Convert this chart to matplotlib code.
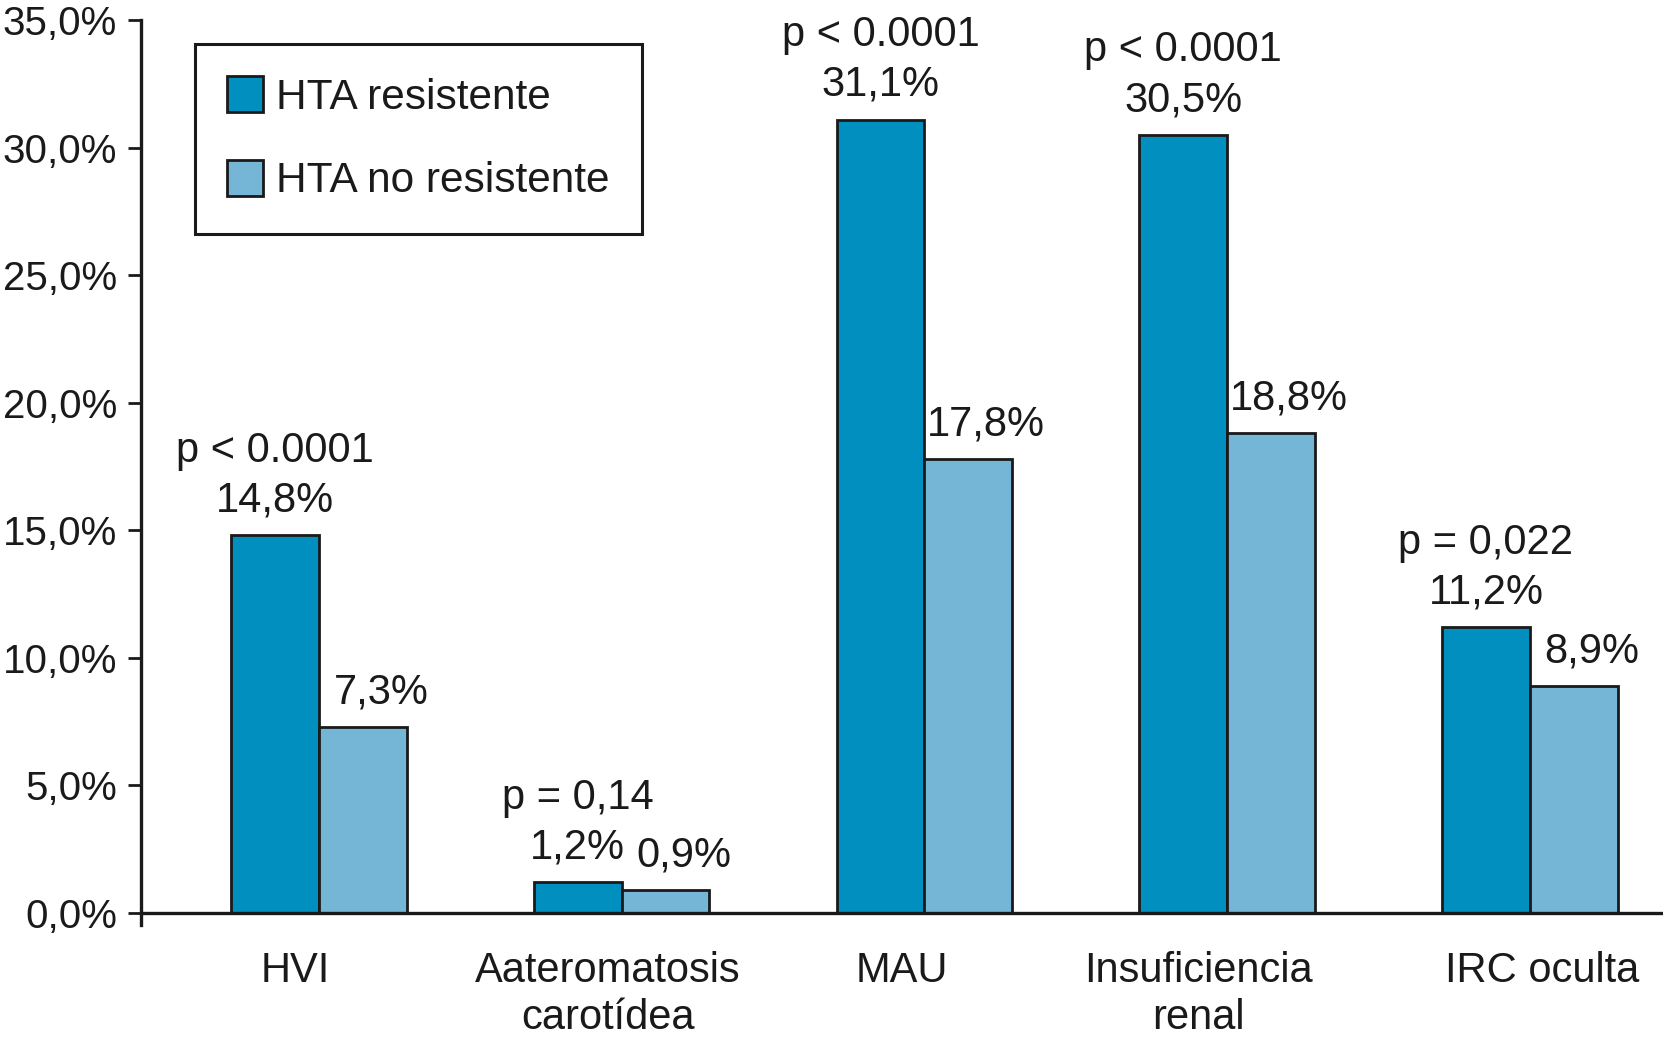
import matplotlib
matplotlib.use('Agg')
import matplotlib.pyplot as plt
import matplotlib.transforms as mtransforms
import numpy as np

categories = ['HVI', 'Aateromatosis\ncarotídea', 'MAU', 'Insuficiencia\nrenal', 'IRC oculta']
series_names = ['HTA resistente', 'HTA no resistente']
resistente = [14.8, 1.2, 31.1, 30.5, 11.2]
no_resistente = [7.3, 0.9, 17.8, 18.8, 8.9]
p_values = ['p < 0.0001', 'p = 0,14', 'p < 0.0001', 'p < 0.0001', 'p = 0,022']
yticks = [0, 5, 10, 15, 20, 25, 30, 35]
ytick_labels = ['0,0%', '5,0%', '10,0%', '15,0%', '20,0%', '25,0%', '30,0%', '35,0%']

plt.rcParams['font.family'] = ['Liberation Sans', 'DejaVu Sans']

W, H = 1663, 1041
fig = plt.figure(figsize=(W / 100, H / 100), dpi=100)
ax = fig.add_axes([141 / W, 1 - 925 / H, 1 - 141 / W, (925 - 20) / H])

dark = '#008FBE'
light = '#75B5D6'
edge = '#1a1a1a'

x = np.arange(len(categories))
w = 0.29
ax.bar(x - w / 2, resistente, w, color=dark, edgecolor=edge, linewidth=2,
       label=series_names[0], zorder=3)
ax.bar(x + w / 2, no_resistente, w, color=light, edgecolor=edge, linewidth=2,
       label=series_names[1], zorder=3)

ax.set_xlim(-0.588, 4.44)
ax.set_ylim(-0.47, 35)
for s in ['top', 'right', 'bottom']:
    ax.spines[s].set_visible(False)
ax.spines['left'].set_linewidth(2.4)
ax.spines['left'].set_color(edge)
ax.axhline(0, color=edge, lw=2.4, zorder=4)

ax.set_yticks(yticks)
ax.set_yticklabels(ytick_labels, fontsize=29, color=edge)
ax.tick_params(axis='y', length=9.4, width=2, pad=8, direction='out', color=edge)
ax.set_xticks(x)
ax.set_xticklabels(categories, fontsize=30, linespacing=1.22, color=edge)
ax.tick_params(axis='x', length=0, pad=19)

# small horizontal nudges of category labels (pixels), as in the original layout
label_nudge = [-24, -14, -23, -29, 12]
for lab, dx in zip(ax.get_xticklabels(), label_nudge):
    lab.set_transform(lab.get_transform() +
                      mtransforms.ScaledTranslation(dx / 100, 0, fig.dpi_scale_trans))

fmt = lambda v: f'{v:.1f}%'.replace('.', ',')
for i in range(len(categories)):
    ax.annotate(fmt(resistente[i]), xy=(x[i] - w / 2, resistente[i]), xytext=(0, 17),
                textcoords='offset points', ha='center', va='baseline', fontsize=30,
                color=edge)
    ax.annotate(p_values[i], xy=(x[i] - w / 2, resistente[i]), xytext=(0, 17 + 36),
                textcoords='offset points', ha='center', va='baseline', fontsize=30,
                color=edge)
    ax.annotate(fmt(no_resistente[i]), xy=(x[i] + w / 2, no_resistente[i]), xytext=(13, 17),
                textcoords='offset points', ha='center', va='baseline', fontsize=30,
                color=edge)

leg = ax.legend(loc='upper left', bbox_to_anchor=(195 / W, 1 - 44 / H),
                bbox_transform=fig.transFigure, fontsize=30.5, frameon=True,
                fancybox=False, edgecolor=edge, framealpha=1, borderpad=0.76,
                handlelength=0.85, handleheight=0.92, handletextpad=0.3,
                labelspacing=1.0, borderaxespad=0)
leg.get_frame().set_linewidth(2.2)
for t in leg.get_texts():
    t.set_color(edge)

fig.savefig('out.png', dpi=100)
